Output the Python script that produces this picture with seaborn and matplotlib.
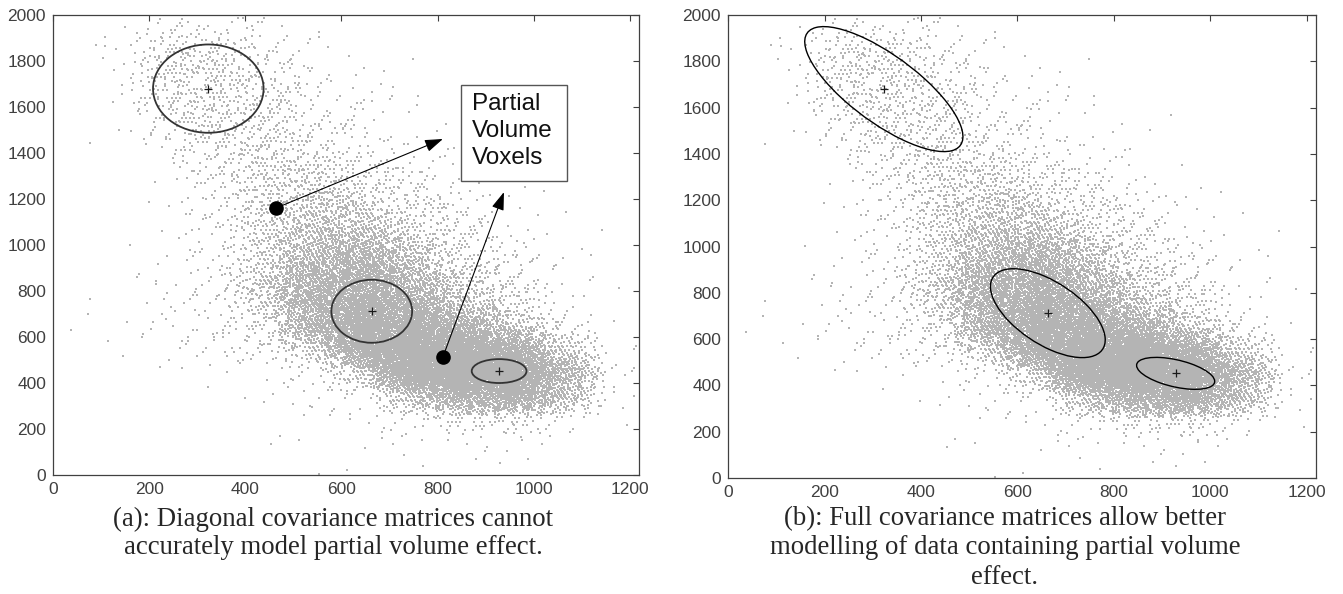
import numpy as np
import pandas as pd
import matplotlib.pyplot as plt
import seaborn as sns
from matplotlib.patches import Ellipse, Rectangle

# Point cloud: dots per 100 x 100 cell
# rows run from the top band (y 1900-2000) down to y 0-100
cell_x = [0, 100, 200, 300, 400, 500, 600, 700, 800, 900, 1000, 1100]
cell_y = [1900, 1800, 1700, 1600, 1500, 1400, 1300, 1200, 1100, 1000,
          900, 800, 700, 600, 500, 400, 300, 200, 100, 0]
density = [
    [0, 2, 16, 16, 5, 1, 0, 0, 0, 0, 0, 0],
    [0, 6, 50, 50, 20, 5, 1, 0, 0, 0, 0, 0],
    [0, 8, 60, 60, 30, 10, 3, 1, 0, 0, 0, 0],
    [0, 5, 50, 60, 40, 15, 5, 2, 1, 0, 0, 0],
    [0, 2, 35, 60, 40, 20, 10, 3, 1, 0, 0, 0],
    [0, 1, 15, 50, 55, 30, 15, 5, 2, 0, 0, 0],
    [0, 0, 6, 35, 65, 55, 30, 10, 3, 1, 0, 0],
    [0, 0, 3, 25, 65, 85, 55, 30, 10, 2, 0, 0],
    [0, 0, 2, 20, 80, 130, 110, 50, 20, 5, 1, 0],
    [0, 0, 2, 18, 80, 190, 190, 80, 30, 8, 2, 0],
    [0, 1, 3, 15, 80, 270, 320, 150, 50, 20, 4, 0],
    [0, 1, 5, 15, 120, 380, 480, 260, 80, 30, 8, 1],
    [0, 2, 5, 15, 100, 430, 650, 430, 150, 50, 12, 1],
    [1, 4, 8, 12, 45, 380, 720, 700, 380, 130, 25, 2],
    [0, 2, 6, 8, 25, 110, 680, 950, 900, 520, 120, 6],
    [0, 0, 1, 2, 4, 15, 120, 880, 1050, 1000, 380, 10],
    [0, 0, 0, 1, 3, 6, 15, 180, 450, 550, 250, 8],
    [0, 0, 0, 0, 1, 3, 5, 15, 40, 50, 20, 2],
    [0, 0, 0, 0, 1, 2, 3, 4, 5, 5, 2, 0],
    [0, 0, 0, 0, 0, 1, 1, 1, 1, 1, 0, 0],
]

# Gaussian components (cluster centres marked with +)
mean_x = [323, 663, 928]
mean_y = [1680, 712, 452]
# (a) diagonal covariances: half extents of the drawn ellipses
diag_rx = [115, 84, 57]
diag_ry = [192, 137, 52]
# (b) full covariances: half extents and correlation
full_rx = [164, 119, 81]
full_ry = [270, 192, 69]
full_rho = [-0.76, -0.6, -0.5]

# partial volume voxels and where their arrows point
pv_x = [464, 811]
pv_y = [1161, 513]
tip_x = [811, 938]
tip_y = [1461, 1230]

caption_a = ["(a): Diagonal covariance matrices cannot",
             "accurately model partial volume effect."]
caption_b = ["(b): Full covariance matrices allow better",
             "modelling of data containing partial volume",
             "effect."]

# spread each cell's dots with a tent kernel one cell wide on each side,
# using a 4-d additive sequence so the layout stays deterministic
g = 1.1673039782614187
alpha = [1 / g ** (i + 1) for i in range(4)]
parts = []
k = 0
for r, y0 in enumerate(cell_y):
    for c, x0 in enumerate(cell_x):
        n = density[r][c]
        idx = np.arange(k, k + n)
        k += n
        u = [(0.5 + idx * a) % 1 for a in alpha]
        parts.append(pd.DataFrame({"x": x0 + 50 + 100 * (u[0] + u[1] - 1),
                                   "y": y0 + 50 + 100 * (u[2] + u[3] - 1)}))
cloud = pd.concat(parts, ignore_index=True)

sns.set_theme(style="white")
plt.rcParams["font.family"] = ["Liberation Sans", "DejaVu Sans"]

fig = plt.figure(figsize=(13.43, 5.94), dpi=100)
ax_a = fig.add_axes([0.0395, 0.2003, 0.4363, 0.7744])
ax_b = fig.add_axes([0.5421, 0.1953, 0.4378, 0.7794])


def cov_ellipse(cx, cy, rx, ry, rho, **kw):
    cov = np.array([[rx ** 2, rho * rx * ry], [rho * rx * ry, ry ** 2]])
    vals, vecs = np.linalg.eigh(cov)
    angle = np.degrees(np.arctan2(vecs[1, 1], vecs[0, 1]))
    return Ellipse((cx, cy), 2 * np.sqrt(vals[1]), 2 * np.sqrt(vals[0]),
                   angle=angle, fill=False, **kw)


for ax in (ax_a, ax_b):
    sns.scatterplot(data=cloud, x="x", y="y", ax=ax, s=0.6, marker="s",
                    color="#b4b4b4", linewidth=0, legend=False, antialiased=False)
    ax.plot(mean_x, mean_y, "+", color="k", ms=6, mew=0.9)
    ax.set_xlim(0, 1219)
    ax.set_ylim(0, 2000)
    ax.set_xticks(range(0, 1201, 200))
    ax.set_yticks(range(0, 2001, 200))
    ax.set_xlabel("")
    ax.set_ylabel("")
    ax.tick_params(direction="in", top=True, right=True, length=4, width=0.8,
                   color="#404040", labelcolor="#404040", labelsize=12.5, pad=5)
    for sp in ax.spines.values():
        sp.set_color("#404040")
        sp.set_linewidth(0.9)
        sp.set_visible(True)

# (a) diagonal ellipses
for i in range(3):
    ax_a.add_patch(cov_ellipse(mean_x[i], mean_y[i], diag_rx[i], diag_ry[i], 0.0,
                               edgecolor="#333333", lw=1.3))

# (b) full ellipses
for i in range(3):
    ax_b.add_patch(cov_ellipse(mean_x[i], mean_y[i], full_rx[i], full_ry[i], full_rho[i],
                               edgecolor="black", lw=1.0))

# partial volume annotation
ax_a.plot(pv_x, pv_y, "o", color="black", ms=9.5)
for i in range(2):
    ax_a.annotate("", xy=(tip_x[i], tip_y[i]), xytext=(pv_x[i], pv_y[i]),
                  arrowprops=dict(arrowstyle="-|>,head_length=1.1,head_width=0.38",
                                  color="black", lw=0.8, shrinkA=4, shrinkB=0,
                                  mutation_scale=10))
ax_a.add_patch(Rectangle((848, 1278), 221, 418, facecolor="white",
                         edgecolor="#555555", lw=1.0, zorder=3))
ax_a.text(871, 1662, "Partial\nVolume\nVoxels", fontsize=17.5, va="top", ha="left",
          linespacing=1.3, color="#111111", zorder=4)

# captions
for j, line in enumerate(caption_a):
    fig.text(333 / 1343, 1 - (519 + 29 * j) / 594, line, ha="center", va="center",
             fontsize=19.3, family=["Liberation Serif", "DejaVu Serif"])
for j, line in enumerate(caption_b):
    fig.text(1005 / 1343, 1 - (519 + 29 * j) / 594, line, ha="center", va="center",
             fontsize=19.3, family=["Liberation Serif", "DejaVu Serif"])

fig.savefig("out.png", dpi=100)
